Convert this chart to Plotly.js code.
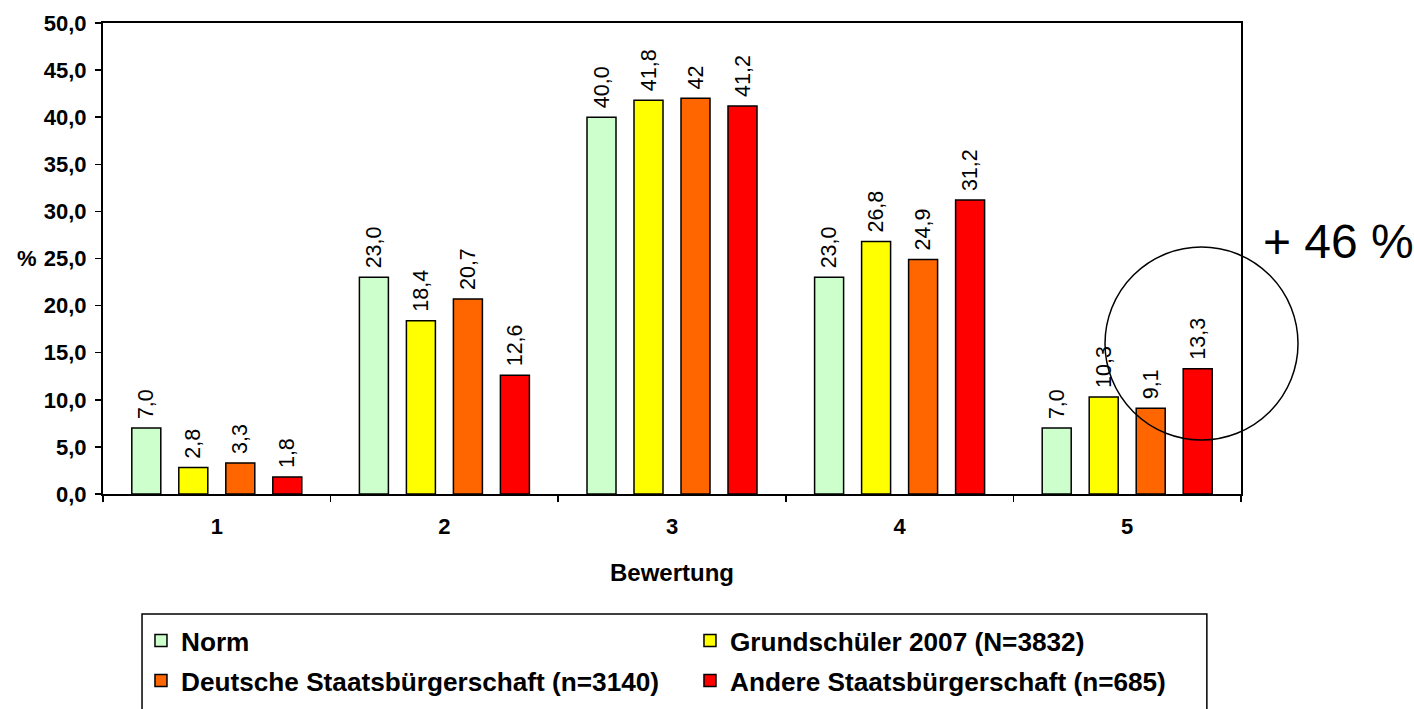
<!DOCTYPE html>
<html>
<head>
<meta charset="utf-8">
<script src="https://cdn.plot.ly/plotly-3.0.1.min.js"></script>
<style>html,body{margin:0;padding:0;background:#fff;}#chart{width:1414px;height:709px;}</style>
</head>
<body>
<div id="chart"></div>
<script>
// ---- Data ----
var categories = ['1', '2', '3', '4', '5'];
var seriesNames = ['Norm', 'Grundschüler 2007 (N=3832)', 'Deutsche Staatsbürgerschaft (n=3140)', 'Andere Staatsbürgerschaft (n=685)'];
var normValues = [7.0, 23.0, 40.0, 23.0, 7.0];
var grundschuelerValues = [2.8, 18.4, 41.8, 26.8, 10.3];
var deutscheValues = [3.3, 20.7, 42.0, 24.9, 9.1];
var andereValues = [1.8, 12.6, 41.2, 31.2, 13.3];
var normLabels = ['7,0', '23,0', '40,0', '23,0', '7,0'];
var grundschuelerLabels = ['2,8', '18,4', '41,8', '26,8', '10,3'];
var deutscheLabels = ['3,3', '20,7', '42', '24,9', '9,1'];
var andereLabels = ['1,8', '12,6', '41,2', '31,2', '13,3'];
var yTickValues = [0, 5, 10, 15, 20, 25, 30, 35, 40, 45, 50];
var xAxisTitle = 'Bewertung';
var yAxisLabel = '%';
var highlightText = '+ 46 %';

var colors = ['#CCFFCC', '#FFFF00', '#FF6600', '#FF0000'];
var FONT = '"Liberation Sans", Arial, sans-serif';

function barTrace(name, values, labels, color, legendId) {
  return {
    type: 'bar',
    name: name,
    x: categories,
    y: values,
    // leading no-break space gives the label a small gap above the bar
    text: labels.map(function (s) { return '\u00a0' + s; }),
    textposition: 'outside',
    textangle: -90,
    constraintext: 'none',
    cliponaxis: false,
    textfont: {family: FONT, size: 21.5, color: '#000'},
    marker: {color: color, line: {color: '#000', width: 1.5}},
    legend: legendId,
    hoverinfo: 'none'
  };
}

var data = [
  barTrace(seriesNames[0], normValues, normLabels, colors[0], 'legend'),
  barTrace(seriesNames[1], grundschuelerValues, grundschuelerLabels, colors[1], 'legend'),
  barTrace(seriesNames[2], deutscheValues, deutscheLabels, colors[2], 'legend2'),
  barTrace(seriesNames[3], andereValues, andereLabels, colors[3], 'legend2')
];

var legendCommon = {
  orientation: 'h',
  xref: 'container',
  yref: 'container',
  xanchor: 'left',
  yanchor: 'middle',
  x: 0.0997,
  entrywidth: 504,
  entrywidthmode: 'pixels',
  bgcolor: 'rgba(0,0,0,0)',
  borderwidth: 0,
  font: {family: FONT, size: 26.2, color: '#000', weight: 'bold'},
  traceorder: 'normal'
};

var layout = {
  width: 1414,
  height: 709,
  margin: {l: 103, r: 173, t: 23, b: 215},
  paper_bgcolor: '#fff',
  plot_bgcolor: '#fff',
  font: {family: FONT, color: '#000'},
  separators: ',.',
  barmode: 'group',
  bargap: 0.174,
  bargroupgap: 0.383,
  showlegend: true,
  hovermode: false,
  legend: Object.assign({}, legendCommon, {y: 0.0959}),
  legend2: Object.assign({}, legendCommon, {y: 0.0395}),
  xaxis: {
    type: 'category',
    categoryorder: 'array',
    categoryarray: categories,
    tickson: 'boundaries',
    ticks: 'outside',
    ticklen: 6,
    tickwidth: 1.5,
    tickcolor: '#000',
    ticklabelstandoff: 12,
    showline: true,
    linecolor: '#000',
    linewidth: 2,
    mirror: true,
    showgrid: false,
    zeroline: false,
    automargin: false,
    tickfont: {family: FONT, size: 22, color: '#000', weight: 'bold'},
    title: {text: xAxisTitle, font: {family: FONT, size: 24, color: '#000', weight: 'bold'}, standoff: 26}
  },
  yaxis: {
    range: [0, 50],
    tickvals: yTickValues,
    tickformat: '.1f',
    ticks: 'outside',
    ticklen: 6,
    tickwidth: 1.5,
    tickcolor: '#000',
    ticklabelstandoff: 4,
    showline: true,
    linecolor: '#000',
    linewidth: 2,
    mirror: true,
    showgrid: false,
    zeroline: false,
    automargin: false,
    tickfont: {family: FONT, size: 22, color: '#000', weight: 'bold'}
  },
  shapes: [
    {type: 'circle', xref: 'paper', yref: 'paper', x0: 0.8805, x1: 1.0501, y0: 0.1146, y1: 0.5244,
     line: {color: '#000', width: 1.5}, fillcolor: 'rgba(0,0,0,0)'},
    {type: 'rect', xref: 'paper', yref: 'paper', x0: 0.0343, x1: 0.970, y0: -0.55, y1: -0.2548,
     line: {color: '#000', width: 1.5}, fillcolor: 'rgba(0,0,0,0)'}
  ],
  annotations: [
    {text: yAxisLabel, xref: 'paper', yref: 'y', x: -0.0773, y: 25, xanchor: 'left', yanchor: 'middle',
     showarrow: false, font: {family: FONT, size: 22, color: '#000', weight: 'bold'}},
    {text: highlightText, xref: 'paper', yref: 'paper', x: 1.0175, y: 0.537, xanchor: 'left', yanchor: 'middle',
     showarrow: false, font: {family: FONT, size: 48, color: '#000'}}
  ]
};

Plotly.newPlot('chart', data, layout, {displayModeBar: false, staticPlot: true});
</script>
</body>
</html>
